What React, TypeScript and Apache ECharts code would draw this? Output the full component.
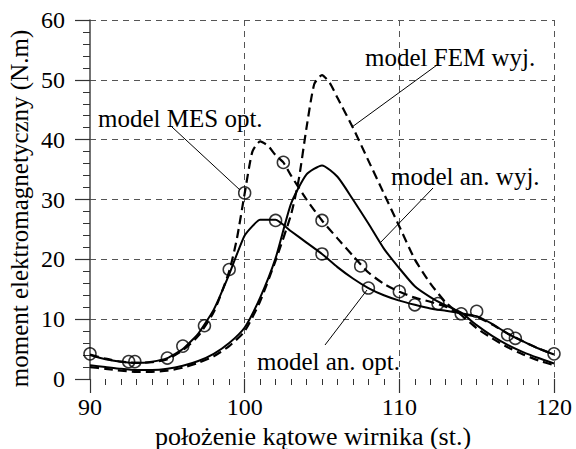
import React, { useEffect, useRef } from "react";
import * as echarts from "echarts";

// Angle (deg) and torque (N.m) values
const femX = [90, 91, 92, 93, 94, 95, 96, 97, 98, 99, 100, 101, 102, 103, 103.5, 104, 104.5, 105, 105.5, 106, 107, 108, 109, 110, 111, 112, 113, 114, 115, 116, 117, 118, 119, 120];
const femY = [2.0, 1.7, 1.4, 1.2, 1.2, 1.4, 1.9, 2.7, 3.8, 5.5, 8.0, 13.0, 19.8, 27.5, 33.4, 42, 49.3, 50.8, 49.5, 47, 42, 36.5, 31, 25.5, 20, 16, 12.8, 10.7, 8.5, 6.8, 5.3, 4.1, 3.1, 2.3];

const anWyjX = [90, 91, 92, 93, 94, 95, 96, 97, 98, 99, 100, 101, 102, 103, 104, 105, 106, 107, 108, 109, 110, 111, 112, 113, 114, 115, 116, 117, 118, 119, 120];
const anWyjY = [2.3, 2.0, 1.7, 1.5, 1.5, 1.7, 2.2, 3.0, 4.2, 6.0, 8.6, 13.6, 20.2, 29.3, 34.2, 35.7, 33.8, 30, 26, 21.8, 18.5, 15.5, 13.7, 12.3, 11.1, 9.0, 7.2, 5.7, 4.5, 3.5, 2.6];

const mesX = [90, 91, 92, 93, 94, 95, 96, 97, 98, 99, 99.5, 100, 100.5, 101, 101.5, 102, 102.5, 103, 104, 105, 106, 107, 108, 109, 110, 111, 112, 113, 114, 115, 116, 117, 118, 119, 120];
const mesY = [4.1, 3.4, 2.9, 2.7, 2.8, 3.3, 4.8, 7.2, 11.2, 18, 23.5, 31, 38, 39.7, 39, 37.4, 36.2, 34, 30, 26.5, 23.5, 20.6, 17.8, 15.9, 14.6, 13.6, 12.9, 12.1, 10.9, 10.4, 9.1, 7.6, 6.3, 5.1, 4.1];

const anOptX = [90, 91, 92, 93, 94, 95, 96, 97, 98, 99, 100, 101, 102, 103, 104, 105, 106, 107, 108, 109, 110, 111, 112, 113, 114, 115, 116, 117, 118, 119, 120];
const anOptY = [4.0, 3.3, 2.9, 2.7, 2.9, 3.5, 5.0, 7.6, 11.6, 17.5, 24, 26.6, 26.6, 24.7, 22.8, 20.9, 18.7, 16.8, 15.2, 14.0, 13.1, 12.4, 11.8, 11.4, 11.0, 10.5, 9.2, 7.6, 6.3, 5.1, 4.1];

const markX = [90, 92.5, 92.9, 95, 96, 97.4, 99, 100, 102, 102.5, 105, 105, 107.5, 108, 110, 111, 112.5, 114, 115, 117, 117.5, 120];
const markY = [4.2, 2.9, 2.9, 3.5, 5.5, 8.9, 18.3, 31.1, 26.5, 36.2, 26.5, 20.9, 18.9, 15.2, 14.6, 12.4, 12.6, 10.9, 11.3, 7.4, 6.8, 4.2];

const xTickLabels = [90, 100, 110, 120];
const yTickLabels = [0, 10, 20, 30, 40, 50, 60];
const xName = "położenie kątowe wirnika (st.)";
const yName = "moment elektromagnetyczny (N.m)";

const FONT = "Liberation Serif";

const zip = (xs: number[], ys: number[]) => xs.map((x, i) => [x, ys[i]]);

export default function App() {
  const ref = useRef<HTMLDivElement>(null);
  useEffect(() => {
    if (!ref.current) return;
    const chart = echarts.init(ref.current, undefined, { renderer: "svg" });
    const gridLine = { show: true, lineStyle: { color: "#555", width: 1, type: [6, 5] as any } };
    const txt = (
      text: string,
      x: number,
      y: number,
      size: number,
      align: string,
      vAlign: string,
      rotation = 0
    ) => ({
      type: "text",
      x,
      y,
      rotation,
      style: { text, fontFamily: FONT, fontSize: size, fill: "#000", align, verticalAlign: vAlign },
      z: 100,
    });
    const ptr = (x1: number, y1: number, x2: number, y2: number) => ({
      type: "line",
      shape: { x1, y1, x2, y2 },
      style: { stroke: "#000", lineWidth: 1 },
      z: 100,
    });
    chart.setOption({
      animation: false,
      backgroundColor: "#fff",
      grid: { left: 90, right: 22, top: 20, bottom: 70 },
      xAxis: {
        type: "value",
        min: xTickLabels[0],
        max: xTickLabels[xTickLabels.length - 1],
        interval: 10,
        axisLine: { show: false },
        axisTick: { show: true, length: 14, lineStyle: { color: "#333", width: 1.2 } },
        minorTick: { show: true, splitNumber: 10, length: 6, lineStyle: { color: "#333", width: 1 } },
        axisLabel: { show: false },
        splitLine: { ...gridLine, showMinLine: false, showMaxLine: true },
      },
      yAxis: {
        type: "value",
        min: yTickLabels[0],
        max: yTickLabels[yTickLabels.length - 1],
        interval: 10,
        axisLine: { show: true, lineStyle: { color: "#444", width: 1.5 } },
        axisTick: { show: true, length: 15, lineStyle: { color: "#333", width: 1.2 } },
        minorTick: { show: true, splitNumber: 5, length: 7, lineStyle: { color: "#333", width: 1 } },
        axisLabel: { show: false },
        splitLine: { ...gridLine, showMinLine: false, showMaxLine: true },
      },
      series: [
        {
          name: "model FEM wyj.",
          type: "line",
          data: zip(femX, femY),
          showSymbol: false,
          smooth: 0.2,
          lineStyle: { color: "#000", width: 2.2, type: [9, 5] },
        },
        {
          name: "model an. wyj.",
          type: "line",
          data: zip(anWyjX, anWyjY),
          showSymbol: false,
          smooth: 0.2,
          lineStyle: { color: "#000", width: 2 },
        },
        {
          name: "model MES opt.",
          type: "line",
          data: zip(mesX, mesY),
          showSymbol: false,
          smooth: 0.2,
          lineStyle: { color: "#000", width: 2.2, type: [9, 5] },
        },
        {
          name: "model an. opt.",
          type: "line",
          data: zip(anOptX, anOptY),
          showSymbol: false,
          smooth: 0.15,
          lineStyle: { color: "#000", width: 2 },
        },
        {
          name: "markers",
          type: "scatter",
          data: zip(markX, markY),
          symbol: "circle",
          symbolSize: 12,
          itemStyle: { color: "rgba(255,255,255,0)", borderColor: "#000", borderWidth: 1.5 },
          z: 5,
        },
      ],
    });

    const toPx = (x: number, y: number) => chart.convertToPixel({ gridIndex: 0 }, [x, y]) as number[];
    const y0 = toPx(xTickLabels[0], yTickLabels[0])[1];
    const xL = toPx(xTickLabels[0], yTickLabels[0])[0];
    const xR = toPx(xTickLabels[xTickLabels.length - 1], yTickLabels[0])[0];
    const yT = toPx(xTickLabels[0], yTickLabels[yTickLabels.length - 1])[1];
    const graphics: any[] = [];
    xTickLabels.forEach((v) => {
      const p = toPx(v, yTickLabels[0]);
      graphics.push(txt(String(v), p[0], y0 + 16, 24, "center", "top"));
    });
    yTickLabels.forEach((v) => {
      const p = toPx(xTickLabels[0], v);
      graphics.push(txt(String(v), xL - 25, p[1], 24, "right", "middle"));
    });
    graphics.push(txt(xName, (xL + xR) / 2 - 9, 436, 26, "center", "middle"));
    graphics.push(txt(yName, 19, (y0 + yT) / 2 + 9, 25, "center", "middle", Math.PI / 2));
    graphics.push(txt("model MES opt.", 98, 118, 25, "left", "middle"));
    graphics.push(txt("model FEM wyj.", 365, 57, 25, "left", "middle"));
    graphics.push(txt("model an. wyj.", 391, 176, 25, "left", "middle"));
    graphics.push(txt("model an. opt.", 257, 361, 25, "left", "middle"));
    graphics.push(ptr(172, 127, 240, 190));
    graphics.push(ptr(437, 65, 352, 127));
    graphics.push(ptr(433, 188, 380, 243));
    graphics.push(ptr(325, 345, 367, 290));
    chart.setOption({ graphic: graphics });
    return () => chart.dispose();
  }, []);
  return <div ref={ref} style={{ position: "fixed", left: 0, top: 0, width: 576, height: 449 }} />;
}
